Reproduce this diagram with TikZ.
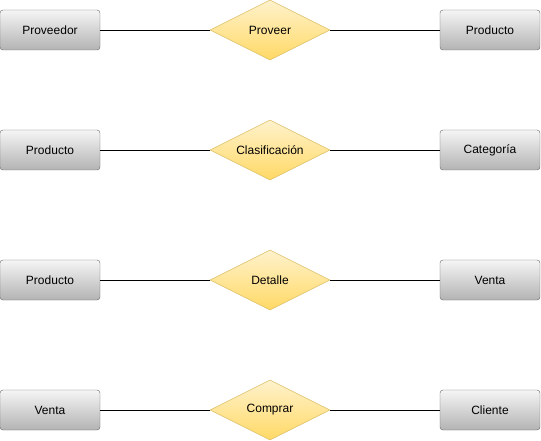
\documentclass[tikz,border=0pt]{standalone}
\usepackage{fontspec}
\setmainfont{Liberation Sans}
\usetikzlibrary{shapes.geometric}
\definecolor{boxline}{HTML}{666666}
\definecolor{boxtop}{HTML}{F5F5F5}
\definecolor{boxbot}{HTML}{B3B3B3}
\definecolor{reltop}{HTML}{FFF2CC}
\definecolor{relbot}{HTML}{FFD966}
\definecolor{relline}{HTML}{D6B656}
\tikzset{
	entity/.style={draw=boxline,rounded corners=3bp,top color=boxtop,bottom color=boxbot,minimum width=100bp,minimum height=40bp,inner sep=0pt,font=\fontsize{12bp}{14bp}\selectfont},
	relation/.style={diamond,draw=relline,top color=reltop,bottom color=relbot,minimum width=120bp,minimum height=60bp,inner sep=0pt,aspect=2,font=\fontsize{12bp}{14bp}\selectfont},
	link/.style={line width=0.75bp}
}
\begin{document}
\begin{tikzpicture}[x=1bp,y=-1bp]
		\useasboundingbox (0,0) rectangle (541,441);
		\node[entity] (E1) at (50,30) {Proveedor};
		\node[relation] (R1) at (270,30) {Proveer};
		\node[entity] (F1) at (490,30) {Producto};
		\node[entity] (E2) at (50,150) {Producto};
		\node[relation] (R2) at (270,150) {Clasificación};
		\node[entity] (F2) at (490,150) {Categoría};
		\node[entity] (E3) at (50,280) {Producto};
		\node[relation] (R3) at (270,280) {Detalle};
		\node[entity] (F3) at (490,280) {Venta};
		\node[entity] (E4) at (50,410) {Venta};
		\node[relation] (R4) at (270,410) {Comprar};
		\node[entity] (F4) at (490,410) {Cliente};
		\draw[link] (E1)--(R1)--(F1);
		\draw[link] (E2)--(R2)--(F2);
		\draw[link] (E3)--(R3)--(F3);
		\draw[link] (E4)--(R4)--(F4);
	\end{tikzpicture}
\end{document}
